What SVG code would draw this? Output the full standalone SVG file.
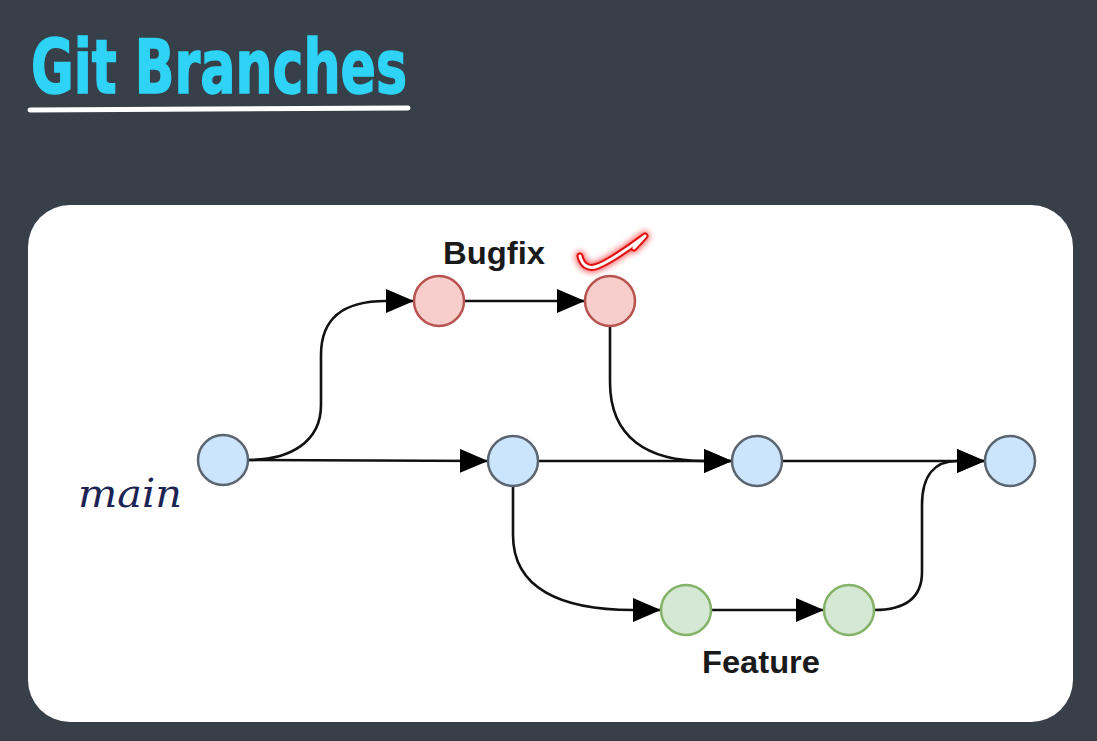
<svg xmlns="http://www.w3.org/2000/svg" width="1097" height="741" viewBox="0 0 1097 741">
<style>
.title{font-family:"Liberation Sans Narrow","DejaVu Sans Condensed","Liberation Sans",sans-serif;font-weight:bold;font-size:74px;fill:#2ed3f6;stroke:#2ed3f6;stroke-width:1.5}
.lbl{font-family:"Liberation Sans",Arial,sans-serif;font-weight:bold;font-size:31px;fill:#1a1a1a;text-anchor:middle}
.hand{font-family:"DejaVu Serif","Liberation Serif",serif;font-style:italic;font-size:40px;fill:#1b2452}
.edge{fill:none;stroke:#111;stroke-width:2.6}
.blue{fill:#cce5ff;stroke:#5b6570;stroke-width:2.5}
.red{fill:#f8cecc;stroke:#b85450;stroke-width:2.5}
.green{fill:#d5e8d4;stroke:#82b366;stroke-width:2.5}
</style>
<defs>
<marker id="arr" markerUnits="userSpaceOnUse" markerWidth="30" markerHeight="24" refX="28" refY="12" orient="auto">
<path d="M0,0 L28,12 L0,24 Z" fill="#000"/>
</marker>
<filter id="glow" x="-30%" y="-60%" width="160%" height="220%">
<feGaussianBlur stdDeviation="3"/>
</filter>
</defs>
<rect width="1097" height="741" fill="#373f48"/>
<text class="title" x="31" y="93" textLength="376" lengthAdjust="spacingAndGlyphs">Git Branches</text>
<line x1="30" y1="110" x2="408" y2="108" stroke="#fff" stroke-width="5" stroke-linecap="round"/>
<rect x="28" y="205" width="1045" height="517" rx="42" fill="#fff"/>
<g id="connectors">
<path class="edge" d="M248,460 C290,460 321,442 321,405 L321,355 C321,318 343,301 386,301 L414,301" marker-end="url(#arr)"/>
<path class="edge" d="M248,460 L488,461" marker-end="url(#arr)"/>
<path class="edge" d="M464,301 L585,301" marker-end="url(#arr)"/>
<path class="edge" d="M610,326 L610,382 C610,438 648,461 704,461 L732,461" marker-end="url(#arr)"/>
<path class="edge" d="M538,461 L732,461" marker-end="url(#arr)"/>
<path class="edge" d="M513,486 L513,535 C513,588 560,610 633,610 L661,610" marker-end="url(#arr)"/>
<path class="edge" d="M711,610 L824,610" marker-end="url(#arr)"/>
<path class="edge" d="M782,461 L985,461" marker-end="url(#arr)"/>
<path class="edge" d="M874,610 C905,610 922,598 922,572 L922,505 C922,475 935,461 957,461 L985,461" marker-end="url(#arr)"/>
</g>
<g id="main1"><circle class="blue" cx="223" cy="460" r="25"/></g>
<g id="main2"><circle class="blue" cx="513" cy="461" r="25"/></g>
<g id="main3"><circle class="blue" cx="757" cy="461" r="25"/></g>
<g id="main4"><circle class="blue" cx="1010" cy="461" r="25"/></g>
<g id="bugfix1"><circle class="red" cx="439" cy="301" r="25"/></g>
<g id="bugfix2"><circle class="red" cx="610" cy="301" r="25"/></g>
<g id="feature1"><circle class="green" cx="686" cy="610" r="25"/></g>
<g id="feature2"><circle class="green" cx="849" cy="610" r="25"/></g>
<g id="labels">
<text class="lbl" x="494" y="264" textLength="102" lengthAdjust="spacingAndGlyphs">Bugfix</text>
<text class="lbl" x="761" y="673" textLength="118" lengthAdjust="spacingAndGlyphs">Feature</text>
<text class="hand" x="78" y="507" textLength="104" lengthAdjust="spacingAndGlyphs">main</text>
</g>
<g id="tick">
<path d="M580,256 C582,265 588,270 598,266 C613,260 630,247 645,236 L634,248" fill="none" stroke="#ff2020" stroke-width="9" stroke-linecap="round" stroke-linejoin="round" filter="url(#glow)" opacity="0.8"/>
<path d="M580,256 C582,265 588,270 598,266 C613,260 630,247 645,236 L634,248" fill="none" stroke="#e01010" stroke-width="7" stroke-linecap="round" stroke-linejoin="round"/>
<path d="M580,256 C582,265 588,270 598,266 C613,260 630,247 645,236 L634,248" fill="none" stroke="#fff" stroke-width="3" stroke-linecap="round" stroke-linejoin="round"/>
</g>
</svg>
